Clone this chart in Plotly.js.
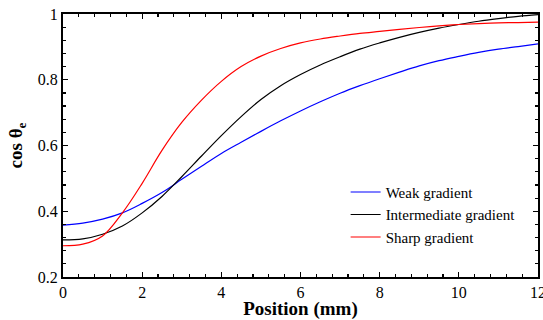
<!DOCTYPE html>
<html><head><meta charset="utf-8">
<script src="https://cdn.plot.ly/plotly-3.0.1.min.js"></script>
<style>html,body{margin:0;padding:0;background:#fff}#c{width:543px;height:320px}</style>
</head><body><div id="c"></div>
<script>
const positions = [0,0.5,1,1.5,2,2.5,3,3.5,4,4.5,5,5.5,6,6.5,7,7.5,8,8.5,9,9.5,10,10.5,11,11.5,12];
const weak = [0.358,0.364,0.376,0.395,0.424,0.457,0.497,0.537,0.576,0.61,0.643,0.675,0.705,0.733,0.759,0.782,0.803,0.823,0.842,0.858,0.871,0.883,0.893,0.901,0.909];
const intermediate = [0.313,0.316,0.33,0.355,0.395,0.445,0.505,0.568,0.63,0.688,0.74,0.782,0.816,0.845,0.87,0.893,0.912,0.929,0.944,0.957,0.968,0.978,0.986,0.993,0.998];
const sharp = [0.295,0.30,0.325,0.395,0.485,0.585,0.67,0.738,0.795,0.84,0.872,0.895,0.912,0.924,0.933,0.941,0.947,0.953,0.959,0.964,0.968,0.971,0.973,0.974,0.975];
const names = ["Weak gradient","Intermediate gradient","Sharp gradient"];
const colors = ["#0000ff","#000000","#ff0000"];
const series = [weak, intermediate, sharp];
const font = "Liberation Serif, Times New Roman, serif";
const traces = series.map((s,i)=>({x:positions,y:s,type:"scatter",mode:"lines",name:names[i],
  line:{color:colors[i],width:1.2,shape:"spline",smoothing:1}}));
const axis = {showline:true,linecolor:"#000",linewidth:2,mirror:"ticks",ticks:"inside",ticklen:5,tickwidth:1.2,tickcolor:"#000",
  showgrid:false,zeroline:false,ticklabeloverflow:"allow",tickfont:{family:font,size:16,color:"#000"}};
const layout = {
  width:543,height:320,margin:{l:63,r:5,t:14,b:43},paper_bgcolor:"#fff",plot_bgcolor:"#fff",
  font:{family:font,color:"#000"},
  xaxis:Object.assign({},axis,{range:[0,12],dtick:2,tick0:0,minor:{dtick:0.4,ticks:"inside",ticklen:3,tickcolor:"#000"},
    title:{text:"<b>Position (mm)</b>",font:{family:font,size:19},standoff:0}}),
  yaxis:Object.assign({},axis,{range:[0.2,1],dtick:0.2,tick0:0.2,minor:{dtick:0.04,ticks:"inside",ticklen:3,tickcolor:"#000"},
    title:{text:"<b>cos θ<sub>e</sub></b>",font:{family:font,size:19},standoff:10}}),
  legend:{x:0.595,y:0.385,xanchor:"left",yanchor:"top",bgcolor:"rgba(0,0,0,0)",font:{family:font,size:15},tracegroupgap:0},
  showlegend:true
};
Plotly.newPlot("c",traces,layout,{displayModeBar:false,staticPlot:true});
</script></body></html>
